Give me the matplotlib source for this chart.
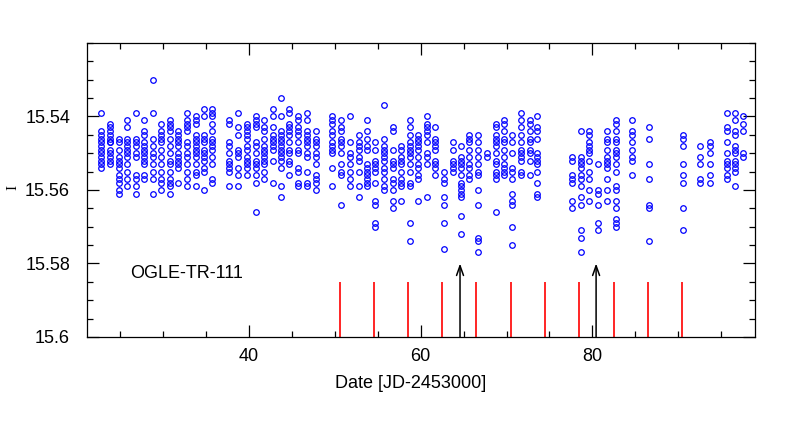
import matplotlib
matplotlib.use("Agg")
import matplotlib.pyplot as plt
from matplotlib.ticker import MultipleLocator, FixedLocator, FuncFormatter

plt.rcParams['font.family'] = ['Liberation Sans', 'DejaVu Sans']

# ---- data ----
night_dates = [22.77, 23.82, 24.84, 25.80, 26.78, 27.75, 28.80, 29.77, 30.75, 31.71,
               32.76, 33.78, 34.74, 35.71, 37.69, 38.74, 39.72, 40.77, 41.74, 42.75,
               43.72, 44.69, 45.73, 46.71, 47.76, 49.70, 50.71, 51.76, 52.77, 53.74,
               54.71, 55.69, 56.74, 57.74, 58.72, 59.69, 60.73, 61.70, 62.68, 63.73,
               64.70, 65.66, 66.68, 67.72, 68.74, 69.71, 70.68, 71.66, 72.70, 73.59,
               77.67, 78.65, 79.65, 80.70, 81.68, 82.73, 84.63, 86.57, 90.61, 92.59,
               93.72, 95.70, 96.63, 97.60]

night_mags = [
    [15.539, 15.544, 15.545, 15.546, 15.547, 15.548, 15.549, 15.550, 15.551, 15.552, 15.553, 15.554],
    [15.542, 15.543, 15.544, 15.545, 15.546, 15.547, 15.547, 15.549, 15.550, 15.551, 15.552, 15.553],
    [15.546, 15.547, 15.549, 15.551, 15.552, 15.553, 15.554, 15.556, 15.557, 15.558, 15.560, 15.561],
    [15.541, 15.543, 15.546, 15.547, 15.548, 15.549, 15.550, 15.551, 15.553, 15.555, 15.557, 15.559],
    [15.539, 15.546, 15.547, 15.548, 15.550, 15.551, 15.556, 15.557, 15.559, 15.561],
    [15.541, 15.544, 15.545, 15.547, 15.548, 15.549, 15.550, 15.551, 15.552, 15.553, 15.556, 15.557],
    [15.530, 15.539, 15.546, 15.548, 15.550, 15.551, 15.553, 15.555, 15.557, 15.561],
    [15.542, 15.544, 15.545, 15.546, 15.547, 15.549, 15.551, 15.553, 15.555, 15.557, 15.558, 15.560],
    [15.541, 15.542, 15.543, 15.544, 15.546, 15.548, 15.550, 15.552, 15.553, 15.555, 15.557, 15.558, 15.559, 15.561],
    [15.544, 15.545, 15.546, 15.547, 15.548, 15.550, 15.551, 15.552, 15.553, 15.554, 15.558],
    [15.539, 15.541, 15.542, 15.543, 15.544, 15.547, 15.548, 15.550, 15.551, 15.553, 15.555, 15.557, 15.559],
    [15.540, 15.541, 15.542, 15.545, 15.546, 15.547, 15.548, 15.549, 15.550, 15.551, 15.553, 15.555, 15.556, 15.559],
    [15.538, 15.540, 15.545, 15.546, 15.547, 15.549, 15.550, 15.551, 15.552, 15.554, 15.555, 15.560],
    [15.538, 15.539, 15.540, 15.542, 15.544, 15.546, 15.547, 15.548, 15.549, 15.551, 15.553, 15.557, 15.558],
    [15.541, 15.542, 15.547, 15.548, 15.550, 15.552, 15.553, 15.554, 15.555, 15.559],
    [15.539, 15.543, 15.545, 15.549, 15.550, 15.551, 15.554, 15.556, 15.559],
    [15.542, 15.543, 15.544, 15.545, 15.546, 15.548, 15.549, 15.551, 15.552, 15.553, 15.554, 15.556],
    [15.540, 15.541, 15.542, 15.543, 15.547, 15.548, 15.550, 15.552, 15.553, 15.554, 15.556, 15.558, 15.566],
    [15.541, 15.543, 15.544, 15.546, 15.548, 15.549, 15.550, 15.551, 15.552, 15.553, 15.555, 15.557],
    [15.538, 15.540, 15.543, 15.545, 15.546, 15.547, 15.548, 15.549, 15.552, 15.558],
    [15.535, 15.540, 15.544, 15.545, 15.546, 15.547, 15.548, 15.549, 15.550, 15.551, 15.552, 15.554, 15.559, 15.562],
    [15.538, 15.539, 15.542, 15.543, 15.544, 15.545, 15.547, 15.549, 15.550, 15.552, 15.553, 15.556],
    [15.540, 15.541, 15.543, 15.544, 15.545, 15.547, 15.549, 15.550, 15.554, 15.555, 15.558, 15.559],
    [15.539, 15.541, 15.544, 15.545, 15.546, 15.547, 15.548, 15.550, 15.551, 15.555, 15.558, 15.559],
    [15.544, 15.546, 15.547, 15.548, 15.550, 15.551, 15.553, 15.556, 15.557, 15.558, 15.560],
    [15.540, 15.541, 15.542, 15.544, 15.545, 15.547, 15.548, 15.549, 15.550, 15.554, 15.559],
    [15.541, 15.543, 15.544, 15.546, 15.547, 15.548, 15.550, 15.553, 15.555, 15.556, 15.564],
    [15.540, 15.547, 15.550, 15.551, 15.553, 15.555, 15.557, 15.559],
    [15.545, 15.547, 15.548, 15.549, 15.551, 15.552, 15.555, 15.559, 15.562],
    [15.541, 15.544, 15.546, 15.548, 15.549, 15.553, 15.554, 15.555, 15.556, 15.557, 15.558, 15.559],
    [15.547, 15.549, 15.552, 15.553, 15.554, 15.555, 15.558, 15.563, 15.564, 15.569, 15.570],
    [15.537, 15.546, 15.548, 15.549, 15.550, 15.551, 15.552, 15.554, 15.555, 15.557, 15.559, 15.560],
    [15.543, 15.544, 15.549, 15.552, 15.553, 15.554, 15.557, 15.558, 15.560, 15.563, 15.565],
    [15.548, 15.549, 15.551, 15.552, 15.553, 15.555, 15.557, 15.558, 15.559, 15.563],
    [15.541, 15.543, 15.545, 15.547, 15.548, 15.549, 15.550, 15.551, 15.553, 15.555, 15.558, 15.559, 15.569, 15.574],
    [15.545, 15.546, 15.547, 15.548, 15.549, 15.551, 15.553, 15.554, 15.556, 15.557, 15.563],
    [15.540, 15.542, 15.543, 15.544, 15.545, 15.547, 15.550, 15.551, 15.553, 15.562],
    [15.543, 15.546, 15.547, 15.548, 15.549, 15.552, 15.553, 15.554, 15.556],
    [15.555, 15.557, 15.558, 15.562, 15.564, 15.569, 15.576],
    [15.547, 15.549, 15.552, 15.553, 15.554, 15.555],
    [15.548, 15.551, 15.552, 15.553, 15.554, 15.556, 15.558, 15.559, 15.560, 15.561, 15.562, 15.567, 15.572],
    [15.545, 15.546, 15.547, 15.549, 15.551, 15.553, 15.554, 15.556, 15.557],
    [15.545, 15.547, 15.549, 15.551, 15.553, 15.555, 15.556, 15.560, 15.564, 15.573, 15.574, 15.577],
    [15.550, 15.551],
    [15.542, 15.543, 15.545, 15.546, 15.547, 15.548, 15.550, 15.552, 15.553, 15.555, 15.556, 15.557, 15.566],
    [15.541, 15.542, 15.544, 15.546, 15.547, 15.549, 15.551, 15.553, 15.554, 15.555, 15.556],
    [15.545, 15.547, 15.550, 15.554, 15.555, 15.557, 15.561, 15.563, 15.564, 15.570, 15.575],
    [15.539, 15.541, 15.543, 15.545, 15.547, 15.549, 15.550, 15.551, 15.552, 15.555, 15.556],
    [15.541, 15.542, 15.544, 15.546, 15.547, 15.549, 15.550, 15.552, 15.556],
    [15.540, 15.543, 15.544, 15.546, 15.550, 15.551, 15.552, 15.553, 15.555, 15.558, 15.561, 15.562],
    [15.551, 15.552, 15.556, 15.557, 15.558, 15.563, 15.565],
    [15.544, 15.551, 15.552, 15.553, 15.554, 15.556, 15.557, 15.559, 15.562, 15.564, 15.571, 15.573, 15.577],
    [15.544, 15.545, 15.547, 15.548, 15.549, 15.550, 15.552, 15.555, 15.557, 15.560, 15.563],
    [15.553, 15.560, 15.561, 15.564, 15.569, 15.571],
    [15.544, 15.546, 15.547, 15.549, 15.551, 15.552, 15.553, 15.554, 15.557, 15.560, 15.563],
    [15.541, 15.542, 15.544, 15.546, 15.547, 15.549, 15.550, 15.551, 15.553, 15.555, 15.559, 15.560, 15.563, 15.565, 15.568, 15.569, 15.570],
    [15.541, 15.544, 15.545, 15.547, 15.549, 15.551, 15.552, 15.556],
    [15.543, 15.546, 15.553, 15.557, 15.564, 15.565, 15.574],
    [15.545, 15.546, 15.548, 15.553, 15.556, 15.558, 15.565, 15.571],
    [15.548, 15.551, 15.553, 15.557, 15.558],
    [15.547, 15.548, 15.550, 15.553, 15.556, 15.558],
    [15.539, 15.543, 15.544, 15.547, 15.550, 15.552, 15.553, 15.554, 15.556, 15.557],
    [15.539, 15.541, 15.544, 15.545, 15.548, 15.549, 15.550, 15.552, 15.553, 15.554, 15.555, 15.559],
    [15.540, 15.542, 15.544, 15.550, 15.551],
]

transit_dates = [50.56, 54.52, 58.48, 62.51, 66.47, 70.51, 74.51, 78.47, 82.48, 86.48, 90.45]
transit_top = 15.585
arrow_dates = [64.58, 80.44]
arrow_top = 15.580
axis_bottom = 15.6

star_name = "OGLE-TR-111"
x_label = "Date [JD-2453000]"
y_label = "I"
y_ticks = [15.54, 15.56, 15.58, 15.6]

# ---- flatten ----
xs, ys = [], []
for d, mags in zip(night_dates, night_mags):
    for m in mags:
        xs.append(d)
        ys.append(m)

fig = plt.figure(figsize=(7.97, 4.42), dpi=100)
ax = fig.add_axes([0.1088, 0.2376, 0.8385, 0.6652])

ax.plot(xs, ys, 'o', mfc='none', mec='#0000ff', ms=4.0, mew=0.9, zorder=3)

ax.vlines(transit_dates, axis_bottom, transit_top, colors='#ff0000', lw=1.2, zorder=2)
for d in arrow_dates:
    ax.annotate('', xy=(d, arrow_top), xytext=(d, axis_bottom),
                arrowprops=dict(arrowstyle='->,head_length=0.7,head_width=0.25',
                                color='black', lw=1.1, shrinkA=0, shrinkB=0))

ax.text(26.1, 15.5827, star_name, fontsize=13, ha='left', va='center')

ax.set_xlim(21.07, 98.96)
ax.set_ylim(15.6, 15.52)

ax.xaxis.set_major_locator(FixedLocator([40, 60, 80]))
ax.xaxis.set_minor_locator(MultipleLocator(5))
ax.yaxis.set_major_locator(FixedLocator(y_ticks))
ax.yaxis.set_minor_locator(MultipleLocator(0.005))
ax.yaxis.set_major_formatter(FuncFormatter(lambda v, p: f"{v:g}"))
ax.xaxis.set_major_formatter(FuncFormatter(lambda v, p: f"{v:g}"))

ax.tick_params(which='both', direction='in', top=True, right=True, width=0.9, labelsize=13)
ax.tick_params(which='major', length=8.5)
ax.tick_params(which='minor', length=4.3)
ax.tick_params(axis='x', which='major', pad=8)
ax.tick_params(axis='y', which='major', pad=12)
for s in ax.spines.values():
    s.set_linewidth(0.9)

ax.set_xlabel(x_label, fontsize=13)
ax.xaxis.set_label_coords(0.485, -0.13)
ax.set_ylabel(y_label, fontsize=11, family=['Liberation Serif', 'DejaVu Serif'], rotation=90)
ax.yaxis.set_label_coords(-0.10, 0.51)

fig.savefig("out.png", dpi=100)
